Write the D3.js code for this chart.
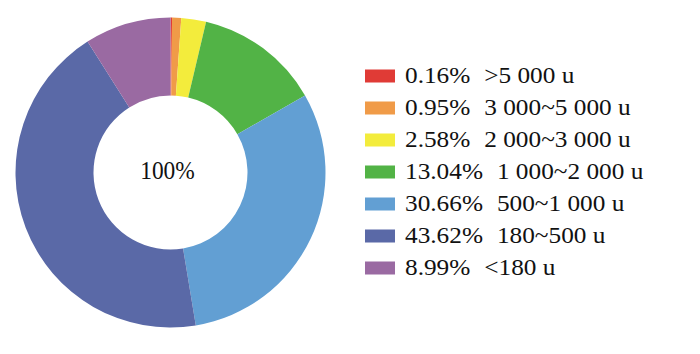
<!DOCTYPE html>
<html>
<head>
<meta charset="utf-8">
<script src="https://cdn.jsdelivr.net/npm/d3@7"></script>
<style>
  body { margin: 0; background: #fff; }
</style>
</head>
<body>
<div id="chart"></div>
<script>
const shares = [0.16, 0.95, 2.58, 13.04, 30.66, 43.62, 8.99]
const ranges = ['>5 000 u', '3 000~5 000 u', '2 000~3 000 u', '1 000~2 000 u', '500~1 000 u', '180~500 u', '<180 u']
const colors = ['#e03b36', '#f09b48', '#f3ec3c', '#52b346', '#629fd3', '#5a69a7', '#9a6aa2']

const width = 700
const height = 354
const font = "'Liberation Serif', 'Times New Roman', serif"

const svg = d3
  .select('#chart')
  .append('svg')
  .attr('width', width)
  .attr('height', height)
  .style('font-family', font)

// donut
const pie = d3.pie().sort(null).value(d => d)
const arc = d3.arc().innerRadius(77).outerRadius(155)

const g = svg.append('g').attr('transform', 'translate(170.5,172.5)')

g.selectAll('.slice')
  .data(pie(shares))
  .enter()
  .append('path')
  .attr('class', 'slice')
  .attr('d', arc)
  .attr('fill', (d, i) => colors[i])

g.append('text')
  .attr('text-anchor', 'middle')
  .attr('transform', 'translate(-3,6) scale(0.9,1)')
  .attr('font-family', font)
  .attr('font-size', 26)
  .attr('fill', '#111')
  .text('100%')

// legend
const y = d3.scalePoint().domain(d3.range(shares.length)).range([76, 268])

const legend = svg
  .selectAll('.legend')
  .data(shares)
  .enter()
  .append('g')
  .attr('class', 'legend')
  .attr('transform', (d, i) => `translate(365,${y(i)})`)

legend
  .append('rect')
  .attr('x', 0)
  .attr('y', -6.5)
  .attr('width', 30)
  .attr('height', 13)
  .attr('fill', (d, i) => colors[i])

// legend font is a bit wide, stretch it horizontally
const label = legend
  .append('text')
  .attr('transform', 'translate(40,7) scale(1.1,1)')
  .attr('font-family', font)
  .attr('font-size', 23)
  .attr('fill', '#111')

label.append('tspan').text(d => d.toFixed(2) + '%')
label.append('tspan').attr('dx', 12.7).text((d, i) => ranges[i])
</script>
</body>
</html>
